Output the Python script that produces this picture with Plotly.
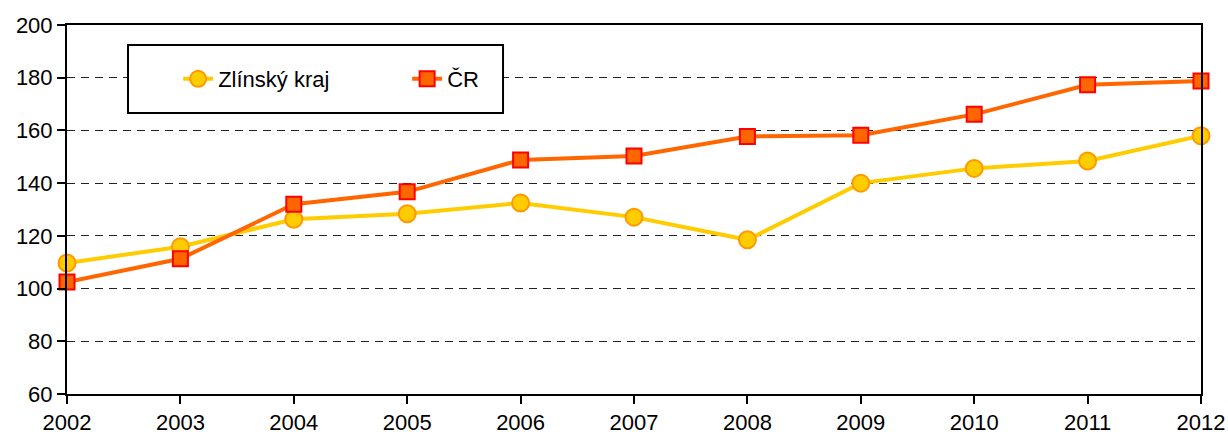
import plotly.graph_objects as go

years = [2002, 2003, 2004, 2005, 2006, 2007, 2008, 2009, 2010, 2011, 2012]
zlin = [109.7, 115.9, 126.3, 128.4, 132.5, 127.1, 118.5, 140.0, 145.6, 148.4, 158.0]
cr = [102.5, 111.3, 132.0, 136.7, 148.8, 150.3, 157.7, 158.2, 166.1, 177.3, 178.8]
y_ticks = [60, 80, 100, 120, 140, 160, 180, 200]

FONT = "Liberation Sans, Arial, sans-serif"
FS = 22

fig = go.Figure()
fig.add_trace(go.Scatter(
    x=years, y=zlin, name="Zlínský kraj", mode="lines+markers",
    line=dict(color="#FFCC00", width=4),
    marker=dict(symbol="circle", size=17, color="#FFCC00",
                line=dict(color="#FF9900", width=2)),
    cliponaxis=False,
))
fig.add_trace(go.Scatter(
    x=years, y=cr, name="ČR", mode="lines+markers",
    line=dict(color="#FF6600", width=4),
    marker=dict(symbol="square", size=15, color="#FF6600",
                line=dict(color="#FF0000", width=2)),
    cliponaxis=False,
))

fig.add_shape(type="rect", xref="paper", yref="paper",
              x0=0.0538, x1=0.3845, y0=0.7615, y1=0.9458,
              line=dict(color="black", width=2), fillcolor="white", layer="above")

fig.update_layout(
    width=1228, height=445,
    margin=dict(l=67, r=27, t=25, b=51),
    paper_bgcolor="white", plot_bgcolor="white",
    font=dict(family=FONT, size=FS, color="black"),
    showlegend=True,
    legend=dict(orientation="h", x=0.098, xanchor="left", y=0.8537, yanchor="middle",
                bgcolor="rgba(0,0,0,0)", borderwidth=0,
                entrywidth=184, entrywidthmode="pixels",
                font=dict(family=FONT, size=FS, color="black")),
    xaxis=dict(range=[2002, 2012], tickmode="array", tickvals=years,
               showgrid=False, zeroline=False, automargin=False,
               showline=True, linecolor="black", linewidth=2, mirror=True,
               ticks="outside", ticklen=8, tickwidth=2, tickcolor="black",
               tickfont=dict(family=FONT, size=FS, color="black")),
    yaxis=dict(range=[60, 200], tickmode="array", tickvals=y_ticks,
               showgrid=True, gridcolor="#222222", gridwidth=1, griddash="8px,6px",
               zeroline=False, automargin=False,
               showline=True, linecolor="black", linewidth=2, mirror=True,
               ticks="outside", ticklen=8, tickwidth=2, tickcolor="black",
               tickfont=dict(family=FONT, size=FS, color="black")),
)

fig.write_html("out.html", config={"displayModeBar": False},
               post_script="document.body.style.margin='0';document.body.style.overflow='hidden';")
